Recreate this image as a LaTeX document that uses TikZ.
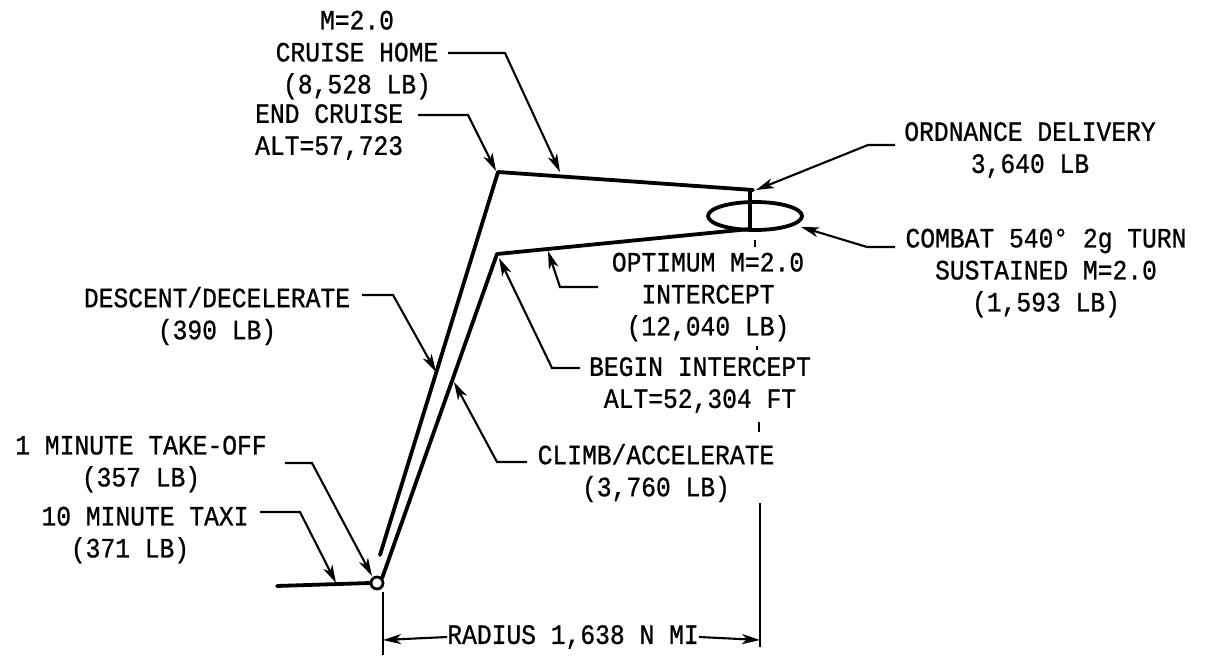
\documentclass[tikz,border=0pt]{standalone}
\usepackage{fontspec}
\newfontfamily\lettering[FakeStretch=0.88, FakeBold=0.8]{Liberation Mono}
\usetikzlibrary{arrows.meta}

\begin{document}
\begin{tikzpicture}[
    x=1pt, y=-1pt,
    route/.style={line width=3.8pt, line cap=round, line join=round},
    leader/.style={line width=2.1pt, -{Stealth[length=18pt, width=10pt, inset=5pt]}},
    dimline/.style={line width=2.1pt},
    lbl/.style={font=\lettering\fontsize{28}{32}\selectfont, align=center, inner sep=0pt}
]
    \useasboundingbox (0,0) rectangle (1213,660);

    % Mission profile
    \coordinate (taxiA) at (277,586);
    \coordinate (icpt) at (497,254);
    \coordinate (cmbIn) at (750,229);
    \coordinate (crsR) at (753,190);
    \coordinate (crsL) at (498,172);
    \coordinate (dscEnd) at (380,555);
    \node[circle, draw, line width=2.8pt, fill=white, inner sep=0pt, minimum size=12pt] (apt) at (377,583) {};

    \draw[route] (taxiA) -- (apt.west);
    \draw[route] (apt.north east) -- (icpt) -- (cmbIn);
    \draw[route] (755,216) ellipse [x radius=47pt, y radius=14pt];
    \draw[route] (cmbIn |- crsR) -- (cmbIn);
    \draw[route] (crsR) -- (crsL) -- (dscEnd);

    % Labels
    \node[lbl] (crshome) at (357,55) {M=2.0\\CRUISE HOME\\(8,528 LB)};
    \node[lbl, anchor=west, align=left] (endcrs) at (255,132) {END CRUISE\\ALT=57,723};
    \node[lbl] (ordn) at (1030,150) {ORDNANCE DELIVERY\\3,640 LB};
    \node[lbl] (combat) at (1046,273) {COMBAT 540° 2g TURN\\SUSTAINED M=2.0\\(1,593 LB)};
    \node[lbl] (optim) at (708,297) {OPTIMUM M=2.0\\INTERCEPT\\(12,040 LB)};
    \node[lbl] (begin) at (700,385) {BEGIN INTERCEPT\\ALT=52,304 FT};
    \node[lbl] (descent) at (217,316) {DESCENT/DECELERATE\\(390 LB)};
    \node[lbl] (climb) at (656,473) {CLIMB/ACCELERATE\\(3,760 LB)};
    \node[lbl] (takeoff) at (141,464) {1 MINUTE TAKE-OFF\\(357 LB)};
    \node[lbl] (taxi) at (145,535) {10 MINUTE TAXI\\\hspace*{-30pt}(371 LB)};
    \node[lbl] (radius) at (573,637) {RADIUS 1,638 N MI};

    % Leaders
    \draw[leader] (448,53) -- (505,53) -- (560,172);
    \draw[leader] (418,115) -- (468,115) -- (496,171);
    \draw[leader] (895,145) -- (868,145) -- (756,190);
    \draw[leader] (895,247) -- (867,247) -- (801,227);
    \draw[leader] (598,287) -- (560,287) -- (548,251);
    \draw[leader] (580,368) -- (552,368) -- (499,258);
    \draw[leader] (362,295) -- (393,295) -- (436,372);
    \draw[leader] (527,462) -- (497,462) -- (454,382);
    \draw[leader] (285,463) -- (312,463) -- (372,576);
    \draw[leader] (260,512) -- (300,512) -- (336,583);

    % Radius dimension
    \coordinate (extL) at (383,640);
    \coordinate (extR) at (760,640);
    \draw[dimline] (383,592) -- (383,655);
    \draw[dimline] (760,503) -- (760,647);
    \draw[dimline] (755,240) -- (755,247);
    \draw[dimline] (757,346) -- (757,350);
    \draw[dimline] (759,422) -- (759,432);
    \draw[leader] (radius.west) -- (extL);
    \draw[leader] (radius.east) -- (extR);
\end{tikzpicture}
\end{document}
